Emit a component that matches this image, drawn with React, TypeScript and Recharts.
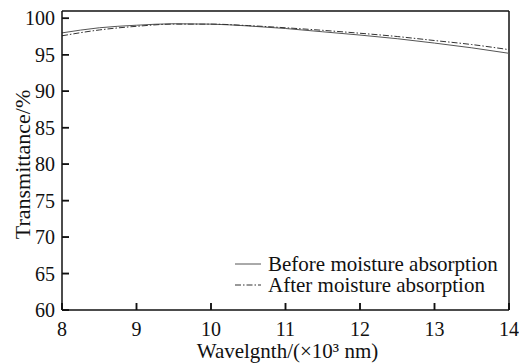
import React from 'react';
import { LineChart, Line, XAxis, YAxis, Legend, Label, ReferenceLine } from 'recharts';

const wavelengths = [8, 8.5, 9, 9.5, 10, 10.5, 11, 11.5, 12, 12.5, 13, 13.5, 14];
const beforeValues = [98.0, 98.7, 99.05, 99.25, 99.2, 98.95, 98.6, 98.15, 97.7, 97.2, 96.6, 95.95, 95.2];
const afterValues = [97.6, 98.4, 98.9, 99.2, 99.2, 99.0, 98.7, 98.35, 97.95, 97.5, 96.95, 96.4, 95.7];
const xTicks = [8, 9, 10, 11, 12, 13, 14];
const yTicks = [60, 65, 70, 75, 80, 85, 90, 95, 100];
const seriesNames = ['Before moisture absorption', 'After moisture absorption'];
const seriesColors = ['#555', '#333'];
const seriesDash = [undefined, '6 2 1.5 2'];

const data = wavelengths.map((w, i) => ({ w, before: beforeValues[i], after: afterValues[i] }));

const FONT = 'Liberation Serif';
const AXIS = '#111';
const X_MIN = 8, X_MAX = 14, Y_MIN = 60, Y_MAX = 101;
// inward tick length expressed as a fraction of each axis span (~7px)
const TICK_FRAC_X = 0.0157, TICK_FRAC_Y = 0.0234;

const XTick = (p: any) => (
  <g>
    <line x1={p.x} x2={p.x} y1={p.y} y2={p.y - 7} stroke={AXIS} strokeWidth={1.5} />
    <text x={p.x} y={p.y + 26} textAnchor="middle" fontFamily={FONT} fontSize={20} fill="#111">{p.payload.value}</text>
  </g>
);

const YTick = (p: any) => (
  <g>
    <line x1={p.x} x2={p.x + 7} y1={p.y} y2={p.y} stroke={AXIS} strokeWidth={1.5} />
    <text x={p.x - 7} y={p.y + 7} textAnchor="end" fontFamily={FONT} fontSize={20} fill="#111">{p.payload.value}</text>
  </g>
);

const LegendContent = () => (
  <svg width={280} height={50} style={{ overflow: 'visible', display: 'block' }}>
    {seriesNames.map((name, i) => (
      <g key={i}>
        <line x1={0} x2={26} y1={9 + i * 21} y2={9 + i * 21} stroke={seriesColors[i]}
          strokeWidth={1} strokeDasharray={seriesDash[i]} />
        <text x={33} y={16 + i * 21} fontFamily={FONT} fontSize={21} fill="#111">{name}</text>
      </g>
    ))}
  </svg>
);

export default function App() {
  const yTickLen = (Y_MAX - Y_MIN) * TICK_FRAC_Y;
  const xTickLen = (X_MAX - X_MIN) * TICK_FRAC_X;
  return (
    <div style={{ position: 'absolute', left: 0, top: 0, width: 519, height: 363, background: '#fff' }}>
      <LineChart width={519} height={363} data={data} margin={{ top: 11, right: 10, left: 0, bottom: 0 }}>
        <XAxis dataKey="w" type="number" domain={[X_MIN, X_MAX]} ticks={xTicks} height={53}
          tickSize={0} tickMargin={0} interval={0} tickLine={false}
          axisLine={{ stroke: AXIS, strokeWidth: 1.5 }} tick={<XTick />}>
          <Label content={(p: any) => {
            const vb = p.viewBox || {};
            return (
              <text x={vb.x + vb.width / 2 + 2} y={358} textAnchor="middle" fontFamily={FONT} fontSize={21} fill="#111">
                Wavelgnth/(×10³ nm)
              </text>
            );
          }} />
        </XAxis>
        <YAxis type="number" domain={[Y_MIN, Y_MAX]} ticks={yTicks} width={62}
          tickSize={0} tickMargin={0} interval={0} tickLine={false}
          axisLine={{ stroke: AXIS, strokeWidth: 1.5 }} tick={<YTick />}>
          <Label content={(p: any) => {
            const vb = p.viewBox || {};
            const cy = vb.y + vb.height / 2 + 4;
            return (
              <text x={22} y={cy} transform={`rotate(-90 22 ${cy})`} textAnchor="middle"
                dominantBaseline="central" fontFamily={FONT} fontSize={22} fill="#111">
                Transmittance/%
              </text>
            );
          }} />
        </YAxis>
        <ReferenceLine y={Y_MAX} stroke={AXIS} strokeWidth={1.5} />
        <ReferenceLine x={X_MAX} stroke={AXIS} strokeWidth={1.5} />
        {xTicks.map((t) => (
          <ReferenceLine key={'xt' + t} stroke={AXIS} strokeWidth={1.5} ifOverflow="visible"
            segment={[{ x: t, y: Y_MIN }, { x: t, y: Y_MIN + yTickLen }]} />
        ))}
        {yTicks.map((t) => (
          <ReferenceLine key={'yt' + t} stroke={AXIS} strokeWidth={1.5} ifOverflow="visible"
            segment={[{ x: X_MIN, y: t }, { x: X_MIN + xTickLen, y: t }]} />
        ))}
        <Legend content={LegendContent} layout="vertical" align="center" verticalAlign="middle"
          wrapperStyle={{ position: 'absolute', left: 235, top: 255, width: 280, height: 50 }} />
        <Line dataKey="before" name={seriesNames[0]} type="monotone" stroke={seriesColors[0]} strokeWidth={1}
          dot={false} isAnimationActive={false} />
        <Line dataKey="after" name={seriesNames[1]} type="monotone" stroke={seriesColors[1]} strokeWidth={1}
          strokeDasharray={seriesDash[1]} dot={false} isAnimationActive={false} />
      </LineChart>
    </div>
  );
}
